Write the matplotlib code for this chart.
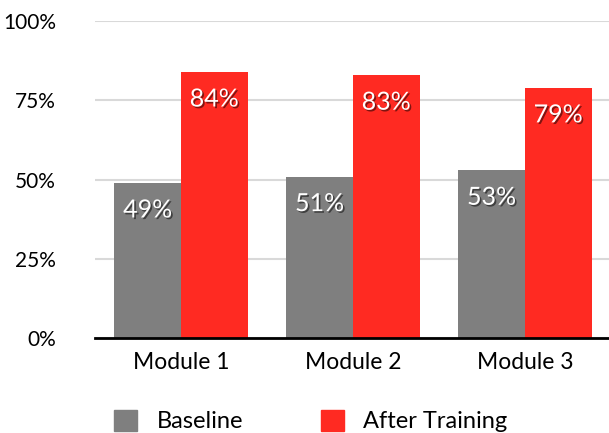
import numpy as np
import matplotlib.pyplot as plt
import matplotlib.patheffects as pe
from matplotlib.patches import Patch

modulos = ['Module 1', 'Module 2', 'Module 3']
baseline = [49, 51, 53]
after_training = [84, 83, 79]
yticks = [0, 25, 50, 75, 100]
ytick_labels = ['0%', '25%', '50%', '75%', '100%']

c_base, c_after = '#7f7f7f', '#ff2a22'
fonte = ['Lato', 'DejaVu Sans']

plt.rcParams['font.family'] = fonte
fig = plt.figure(figsize=(6.09, 4.33), dpi=100)
ax = fig.add_axes([0.156, 0.219, 0.85, 0.732])

x = np.arange(len(modulos))
w = 0.387
b1 = ax.bar(x - w / 2, baseline, w, color=c_base, zorder=2)
b2 = ax.bar(x + w / 2, after_training, w, color=c_after, zorder=2)

# rotulos dentro das barras, brancos com sombra
sombra = [pe.withSimplePatchShadow(offset=(1.2, -1.2), shadow_rgbFace='black', alpha=0.5)]
for barras, vals in [(b1, baseline), (b2, after_training)]:
    for b, v in zip(barras, vals):
        ax.annotate(f'{v}%', (b.get_x() + b.get_width() / 2, v), xytext=(0, -19.5),
                    textcoords='offset points', ha='center', va='center',
                    color='white', fontsize=18, path_effects=sombra, zorder=3)

ax.set_ylim(0, 100)
ax.set_xlim(-0.5, 2.51)
ax.set_yticks(yticks)
ax.set_yticklabels(ytick_labels, fontsize=15)
ax.set_xticks(x)
ax.set_xticklabels(modulos, fontsize=16.5)
ax.tick_params(axis='both', length=0, pad=10)
ax.tick_params(axis='y', pad=28)
ax.yaxis.grid(True, color='#d9d9d9', lw=1.5, zorder=0)
for s in ['top', 'right', 'left']:
    ax.spines[s].set_visible(False)
ax.spines['bottom'].set_linewidth(2)
ax.spines['bottom'].set_zorder(4)

handles = [Patch(color=c_base, label='Baseline'), Patch(color=c_after, label='After Training')]
fig.legend(handles=handles, loc='center left', bbox_to_anchor=(0.187, 0.028), ncol=2,
           frameon=False, fontsize=17, handlelength=1.0, handleheight=1.0,
           handletextpad=0.8, columnspacing=3.3, borderpad=0, borderaxespad=0)

plt.savefig('out.png', dpi=100)
